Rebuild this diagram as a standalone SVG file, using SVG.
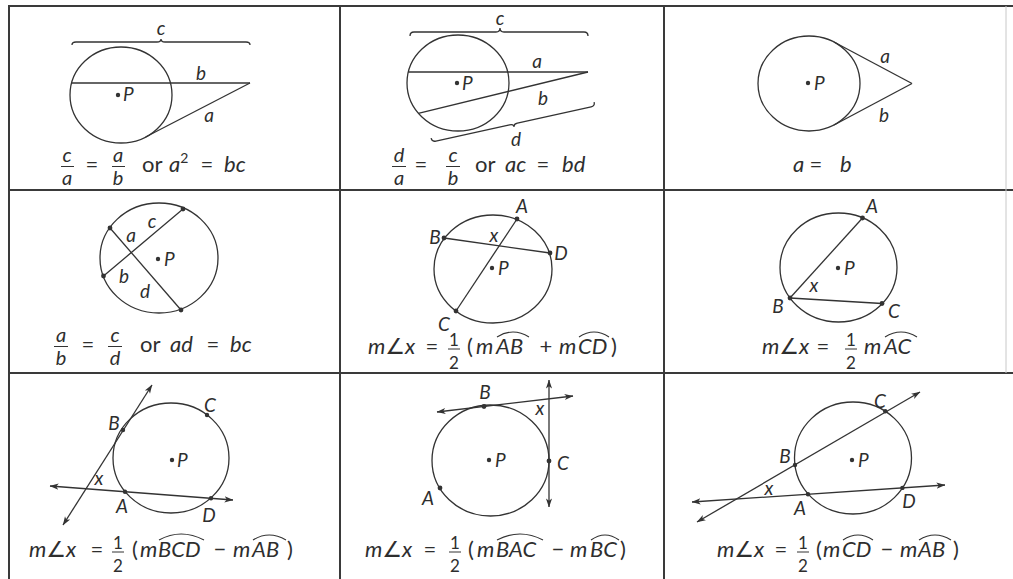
<svg xmlns="http://www.w3.org/2000/svg" width="1013" height="579" viewBox="0 0 1013 579">
<style>
.grid{stroke:#3a3a3a;stroke-width:2;fill:none}
.fig{stroke:#333;stroke-width:1.3;fill:none}
.arc{stroke:#333;stroke-width:1.1;fill:none}
.bar{stroke:#333;stroke-width:1}
.dot{fill:#333}
text{font-family:Lato,"Open Sans","DejaVu Sans",sans-serif;fill:#2e2e2e}
.l{font-size:19px;font-style:italic}
.f{font-size:22px}
.i{font-style:italic}
.n{font-size:17px}
.q{font-size:20px;font-style:italic}
.m{text-anchor:middle}
</style>
<defs>
<marker id="ar" viewBox="0 0 10 10" refX="9.5" refY="5" markerWidth="9" markerHeight="9" markerUnits="userSpaceOnUse" orient="auto-start-reverse">
<path d="M0,1.6 L10,5 L0,8.4 L2.6,5 Z" fill="#333"/>
</marker>
</defs>
<rect width="1013" height="579" fill="#fff"/>
<g id="table">
<line class="grid" x1="8" y1="6" x2="1013" y2="6"/>
<line class="grid" x1="8" y1="190" x2="1013" y2="190"/>
<line class="grid" x1="8" y1="373" x2="1013" y2="373"/>
<line class="grid" x1="9" y1="5" x2="9" y2="579"/>
<line class="grid" x1="340" y1="5" x2="340" y2="579"/>
<line class="grid" x1="664" y1="5" x2="664" y2="579"/>
<line x1="1006" y1="6" x2="1006" y2="373" stroke="#c8c8c8" stroke-width="1"/>
</g>

<g id="cell-1">
<ellipse class="fig" cx="121" cy="95" rx="51" ry="48"/>
<path class="fig" d="M72,45 Q72,42 76,42 L157,42 Q161,42 161,39 Q161,42 165,42 L246,42 Q250,42 250,45"/>
<line class="fig" x1="71.6" y1="83" x2="250" y2="83" stroke-width="1.6"/>
<line class="fig" x1="250" y1="83" x2="145.6" y2="137"/>
<circle class="dot" cx="118" cy="95" r="2.2"/>
<text class="l" x="123" y="101">P</text>
<text class="l m" x="161" y="35">c</text>
<text class="l m" x="201" y="80">b</text>
<text class="l m" x="209" y="122">a</text>
<text class="q m" x="67" y="162">c</text>
<line class="bar" x1="61" y1="166.5" x2="74" y2="166.5"/>
<text class="q m" x="67" y="185">a</text>
<text class="f m" x="92" y="172">=</text>
<text class="q m" x="118" y="162">a</text>
<line class="bar" x1="112" y1="166.5" x2="125" y2="166.5"/>
<text class="q m" x="118" y="185">b</text>
<text class="f" x="142" y="172">or</text>
<text class="f i" x="169" y="172">a<tspan dy="-9" font-size="14" font-style="normal">2</tspan></text>
<text class="f m" x="207" y="172">=</text>
<text class="f i" x="224" y="172">bc</text>
</g>

<g id="cell-2">
<ellipse class="fig" cx="458" cy="83" rx="51" ry="48"/>
<path class="fig" d="M410,36 Q410,32 414,32 L496,32 Q500,32 500,28 Q500,32 504,32 L584,32 Q588,32 588,36"/>
<line class="fig" x1="408.4" y1="72" x2="588" y2="72"/>
<line class="fig" x1="588" y1="72" x2="418.3" y2="113.4"/>
<path class="fig" d="M431.1,138.1 Q432,142 435.9,141.1 L509.6,124.9 Q513.5,124 514.1,126.9 Q513.5,124 517.4,123.1 L591.1,106.9 Q595,106 594.1,102.1"/>
<circle class="dot" cx="457" cy="83" r="2.2"/>
<text class="l" x="462" y="90">P</text>
<text class="l m" x="500" y="25">c</text>
<text class="l m" x="537" y="68">a</text>
<text class="l m" x="543" y="105">b</text>
<text class="l m" x="516" y="146">d</text>
<text class="q m" x="399" y="162">d</text>
<line class="bar" x1="392" y1="166.5" x2="406" y2="166.5"/>
<text class="q m" x="399" y="185">a</text>
<text class="f m" x="421" y="172">=</text>
<text class="q m" x="453" y="162">c</text>
<line class="bar" x1="446" y1="166.5" x2="460" y2="166.5"/>
<text class="q m" x="453" y="185">b</text>
<text class="f" x="475" y="172">or</text>
<text class="f i" x="505" y="172">ac</text>
<text class="f m" x="543" y="172">=</text>
<text class="f i" x="562" y="172">bd</text>
</g>

<g id="cell-3">
<ellipse class="fig" cx="809" cy="83.5" rx="51" ry="47.5"/>
<line class="fig" x1="912" y1="83.5" x2="834" y2="42"/>
<line class="fig" x1="912" y1="83.5" x2="834" y2="125"/>
<circle class="dot" cx="808" cy="83" r="2.2"/>
<text class="l" x="814" y="90">P</text>
<text class="l m" x="885" y="63">a</text>
<text class="l m" x="884" y="122">b</text>
<text class="f i" x="793" y="172">a</text>
<text class="f m" x="816" y="172">=</text>
<text class="f i" x="840" y="172">b</text>
</g>

<g id="cell-4">
<ellipse class="fig" cx="159" cy="258" rx="59" ry="55"/>
<line class="fig" x1="110" y1="228" x2="181" y2="310"/>
<line class="fig" x1="183" y1="209" x2="103.5" y2="276"/>
<circle class="dot" cx="110" cy="228" r="2.4"/>
<circle class="dot" cx="181" cy="310" r="2.4"/>
<circle class="dot" cx="183" cy="209" r="2.4"/>
<circle class="dot" cx="103.5" cy="276" r="2.4"/>
<circle class="dot" cx="158" cy="259" r="2.2"/>
<text class="l" x="164" y="266">P</text>
<text class="l m" x="131" y="242">a</text>
<text class="l m" x="152" y="228">c</text>
<text class="l m" x="124" y="283">b</text>
<text class="l m" x="145" y="298">d</text>
<text class="q m" x="61" y="342">a</text>
<line class="bar" x1="54" y1="346.5" x2="68" y2="346.5"/>
<text class="q m" x="61" y="365">b</text>
<text class="f m" x="88" y="352">=</text>
<text class="q m" x="115" y="342">c</text>
<line class="bar" x1="108" y1="346.5" x2="122" y2="346.5"/>
<text class="q m" x="115" y="365">d</text>
<text class="f" x="140" y="352">or</text>
<text class="f i" x="170" y="352">ad</text>
<text class="f m" x="213" y="352">=</text>
<text class="f i" x="230" y="352">bc</text>
</g>

<g id="cell-5">
<ellipse class="fig" cx="493" cy="269" rx="59" ry="54"/>
<line class="fig" x1="517" y1="219" x2="456" y2="311"/>
<line class="fig" x1="444" y1="238" x2="550" y2="253"/>
<circle class="dot" cx="517" cy="219" r="2.4"/>
<circle class="dot" cx="456" cy="311" r="2.4"/>
<circle class="dot" cx="444" cy="238" r="2.4"/>
<circle class="dot" cx="550" cy="253" r="2.4"/>
<circle class="dot" cx="492" cy="268" r="2.2"/>
<text class="l" x="498" y="275">P</text>
<text class="l m" x="522" y="213">A</text>
<text class="l m" x="435" y="244">B</text>
<text class="l m" x="561" y="260">D</text>
<text class="l m" x="444" y="331">C</text>
<text class="l m" x="494" y="242">x</text>
<text class="f i" x="368" y="354">m∠x</text>
<text class="f m" x="432" y="354">=</text>
<text class="n m" x="454" y="346">1</text>
<line class="bar" x1="448" y1="349" x2="460" y2="349"/>
<text class="n m" x="454" y="369">2</text>
<text class="f" x="467" y="354">(</text>
<text class="f i" x="476" y="354">m</text>
<text class="f i" x="496" y="354">AB</text>
<path class="arc" d="M497,337 Q513,327 529,337"/>
<text class="f m" x="546" y="354">+</text>
<text class="f i" x="559" y="354">m</text>
<text class="f i" x="578" y="354">CD</text>
<path class="arc" d="M579,337 Q594,327 609,337"/>
<text class="f" x="611" y="354">)</text>
</g>

<g id="cell-6">
<ellipse class="fig" cx="838.5" cy="267.5" rx="58.5" ry="54.5"/>
<line class="fig" x1="862.5" y1="218" x2="790" y2="298"/>
<line class="fig" x1="790" y1="298" x2="882" y2="303.5"/>
<circle class="dot" cx="862.5" cy="218" r="2.4"/>
<circle class="dot" cx="790" cy="298" r="2.4"/>
<circle class="dot" cx="882" cy="303.5" r="2.4"/>
<circle class="dot" cx="838" cy="268" r="2.2"/>
<text class="l" x="844" y="275">P</text>
<text class="l m" x="872" y="213">A</text>
<text class="l m" x="778" y="313">B</text>
<text class="l m" x="894" y="318">C</text>
<text class="l m" x="814" y="292">x</text>
<text class="f i" x="762" y="354">m∠x</text>
<text class="f m" x="823" y="354">=</text>
<text class="n m" x="851" y="346">1</text>
<line class="bar" x1="845" y1="349" x2="857" y2="349"/>
<text class="n m" x="851" y="369">2</text>
<text class="f i" x="864" y="354">m</text>
<text class="f i" x="884" y="354">AC</text>
<path class="arc" d="M885,337 Q901,327 917,337"/>
</g>

<g id="cell-7">
<ellipse class="fig" cx="171" cy="458" rx="58" ry="55"/>
<line class="fig" x1="63" y1="525" x2="152" y2="385" marker-start="url(#ar)" marker-end="url(#ar)"/>
<line class="fig" x1="50" y1="486" x2="233" y2="500" marker-start="url(#ar)" marker-end="url(#ar)"/>
<circle class="dot" cx="123" cy="430" r="2.2"/>
<circle class="dot" cx="207" cy="415" r="2.2"/>
<circle class="dot" cx="125" cy="491.7" r="2.2"/>
<circle class="dot" cx="211" cy="498.3" r="2.2"/>
<circle class="dot" cx="172" cy="460" r="2.2"/>
<text class="l" x="177" y="467">P</text>
<text class="l m" x="114" y="430">B</text>
<text class="l m" x="210" y="412">C</text>
<text class="l m" x="99" y="485">x</text>
<text class="l m" x="122" y="513">A</text>
<text class="l m" x="209" y="522">D</text>
<text class="f i" x="29" y="557">m∠x</text>
<text class="f m" x="97" y="557">=</text>
<text class="n m" x="118" y="549">1</text>
<line class="bar" x1="112" y1="552" x2="124" y2="552"/>
<text class="n m" x="118" y="572">2</text>
<text class="f" x="132" y="557">(</text>
<text class="f i" x="140" y="557">m</text>
<text class="f i" x="158" y="557">BCD</text>
<path class="arc" d="M159,540 Q181,528 204,540"/>
<text class="f m" x="220" y="557">−</text>
<text class="f i" x="233" y="557">m</text>
<text class="f i" x="252" y="557">AB</text>
<path class="arc" d="M253,540 Q269,530 286,540"/>
<text class="f" x="287" y="557">)</text>
</g>

<g id="cell-8">
<ellipse class="fig" cx="490.5" cy="460.5" rx="58.5" ry="55.5"/>
<line class="fig" x1="437" y1="412" x2="573" y2="396" marker-start="url(#ar)" marker-end="url(#ar)"/>
<line class="fig" x1="549" y1="380" x2="549" y2="507" marker-start="url(#ar)" marker-end="url(#ar)"/>
<circle class="dot" cx="484" cy="406.5" r="2.4"/>
<circle class="dot" cx="549" cy="461" r="2.4"/>
<circle class="dot" cx="440" cy="488" r="2.4"/>
<circle class="dot" cx="489" cy="460" r="2.2"/>
<text class="l" x="495" y="467">P</text>
<text class="l m" x="485" y="399">B</text>
<text class="l m" x="540" y="415">x</text>
<text class="l m" x="563" y="470">C</text>
<text class="l m" x="428" y="505">A</text>
<text class="f i" x="365" y="557">m∠x</text>
<text class="f m" x="430" y="557">=</text>
<text class="n m" x="455" y="549">1</text>
<line class="bar" x1="449" y1="552" x2="461" y2="552"/>
<text class="n m" x="455" y="572">2</text>
<text class="f" x="468" y="557">(</text>
<text class="f i" x="477" y="557">m</text>
<text class="f i" x="496" y="557">BAC</text>
<path class="arc" d="M497,540 Q520,528 543,540"/>
<text class="f m" x="558" y="557">−</text>
<text class="f i" x="570" y="557">m</text>
<text class="f i" x="590" y="557">BC</text>
<path class="arc" d="M591,540 Q605,530 619,540"/>
<text class="f" x="620" y="557">)</text>
</g>

<g id="cell-9">
<ellipse class="fig" cx="853" cy="458" rx="58.5" ry="56"/>
<line class="fig" x1="697" y1="522" x2="920" y2="392" marker-start="url(#ar)" marker-end="url(#ar)"/>
<line class="fig" x1="692" y1="502" x2="945" y2="485" marker-start="url(#ar)" marker-end="url(#ar)"/>
<circle class="dot" cx="795" cy="465" r="2.2"/>
<circle class="dot" cx="885.3" cy="411.3" r="2.2"/>
<circle class="dot" cx="808" cy="494.2" r="2.2"/>
<circle class="dot" cx="902.4" cy="487.9" r="2.2"/>
<circle class="dot" cx="852" cy="460" r="2.2"/>
<text class="l" x="858" y="467">P</text>
<text class="l m" x="880" y="408">C</text>
<text class="l m" x="785" y="463">B</text>
<text class="l m" x="769" y="495">x</text>
<text class="l m" x="800" y="515">A</text>
<text class="l m" x="909" y="508">D</text>
<text class="f i" x="717" y="557">m∠x</text>
<text class="f m" x="781" y="557">=</text>
<text class="n m" x="803" y="549">1</text>
<line class="bar" x1="797" y1="552" x2="809" y2="552"/>
<text class="n m" x="803" y="572">2</text>
<text class="f" x="816" y="557">(</text>
<text class="f i" x="823" y="557">m</text>
<text class="f i" x="842" y="557">CD</text>
<path class="arc" d="M843,540 Q858,530 873,540"/>
<text class="f m" x="887" y="557">−</text>
<text class="f i" x="900" y="557">m</text>
<text class="f i" x="918" y="557">AB</text>
<path class="arc" d="M919,540 Q935,530 951,540"/>
<text class="f" x="953" y="557">)</text>
</g>
</svg>
